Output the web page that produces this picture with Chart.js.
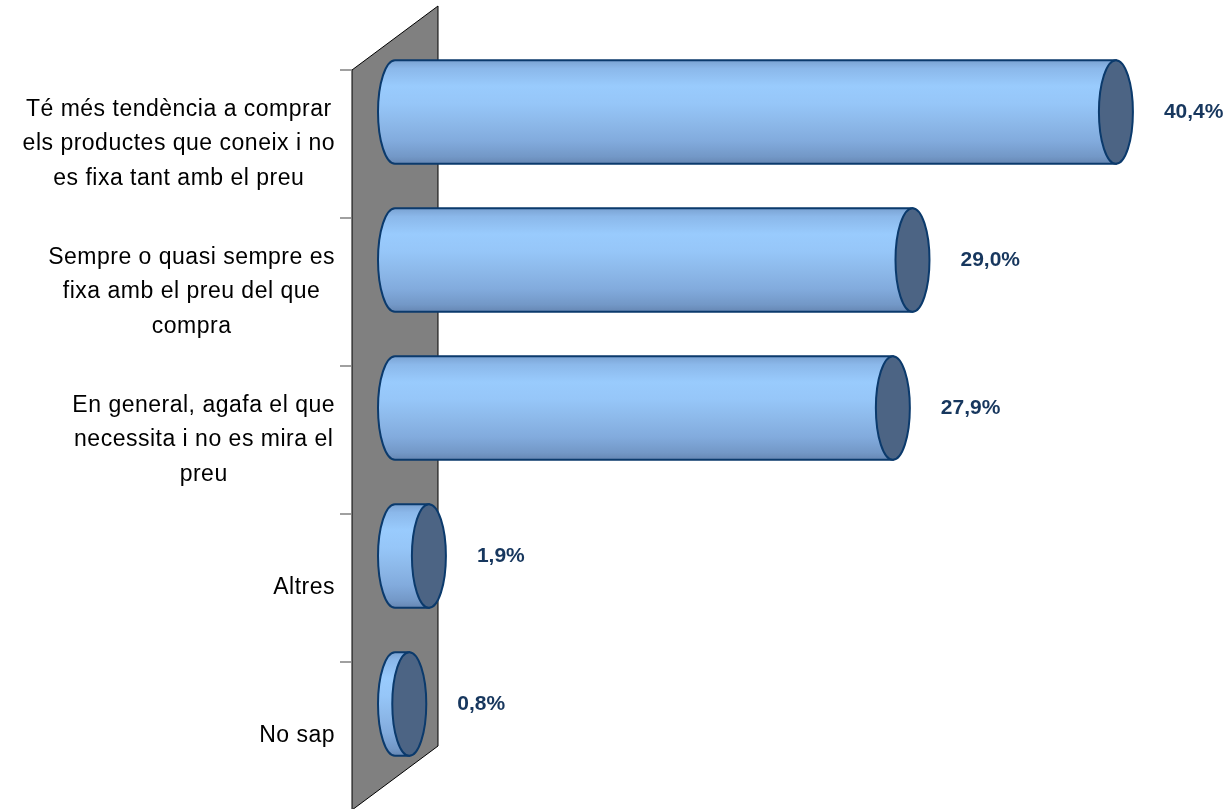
<!DOCTYPE html>
<html>
<head>
<meta charset="utf-8">
<script src="https://cdn.jsdelivr.net/npm/chart.js@4/dist/chart.umd.min.js"></script>
<style>
  html, body { margin: 0; padding: 0; background: #ffffff; }
  #wrap { width: 1232px; height: 809px; position: relative; }
</style>
</head>
<body>
<div id="wrap"><canvas id="grafic"></canvas></div>
<script>
// dades del grafic
const categories = [
    ["Té més tendència a comprar", "els productes que coneix i no", "es fixa tant amb el preu"],
    ["Sempre o quasi sempre es", "fixa amb el preu del que", "compra"],
    ["En general, agafa el que", "necessita i no es mira el", "preu"],
    ["Altres"],
    ["No sap"]
];
const valors = [40.4, 29.0, 27.9, 1.9, 0.8];
const etiquetesValor = ["40,4%", "29,0%", "27,9%", "1,9%", "0,8%"];

// desplaçament de profunditat (efecte 3D)
const profX = 43;
const profY = 32;

// paret grisa + marques de categoria
const pluginParet = {
    id: 'paret',
    beforeDatasetsDraw(chart) {
        const ctx = chart.ctx;
        const area = chart.chartArea;
        const fx = area.left - profX, bx = area.left + profX;
        ctx.save();
        ctx.beginPath();
        ctx.moveTo(fx, area.top + profY);
        ctx.lineTo(bx, area.top - profY);
        ctx.lineTo(bx, area.bottom - profY);
        ctx.lineTo(fx, area.bottom + profY);
        ctx.closePath();
        ctx.fillStyle = '#808080';
        ctx.fill();
        ctx.strokeStyle = '#000000';
        ctx.lineWidth = 1;
        ctx.stroke();

        // marques
        const yScale = chart.scales.y;
        ctx.strokeStyle = '#808080';
        ctx.lineWidth = 1.5;
        for (let i = 0; i <= categories.length; i++) {
            const y = yScale.getPixelForValue(i - 0.5) + profY;
            ctx.beginPath();
            ctx.moveTo(fx - 12, y);
            ctx.lineTo(fx, y);
            ctx.stroke();
        }
        ctx.restore();
    }
};

// cilindres, etiquetes de categoria i valors
const pluginCilindres = {
    id: 'cilindres',
    afterDatasetsDraw(chart) {
        const ctx = chart.ctx;
        const area = chart.chartArea;
        const meta = chart.getDatasetMeta(0);
        const rx = 17;
        ctx.save();
        meta.data.forEach(function (bar, i) {
            const x0 = bar.base;
            const x1 = bar.x;
            const yc = bar.y;
            const ry = bar.height / 2;

            const grad = ctx.createLinearGradient(0, yc - ry, 0, yc + ry);
            grad.addColorStop(0, '#7aa2d2');
            grad.addColorStop(0.08, '#8bb8ea');
            grad.addColorStop(0.25, '#99cbfd');
            grad.addColorStop(0.42, '#96c6f8');
            grad.addColorStop(0.6, '#8db9ea');
            grad.addColorStop(0.78, '#82abdd');
            grad.addColorStop(0.93, '#7398c7');
            grad.addColorStop(1, '#6687b3');

            // cos del cilindre
            ctx.beginPath();
            ctx.ellipse(x0, yc, rx, ry, 0, -Math.PI / 2, Math.PI / 2, true);
            ctx.lineTo(x1, yc + ry);
            ctx.lineTo(x1, yc - ry);
            ctx.closePath();
            ctx.fillStyle = grad;
            ctx.fill();
            ctx.strokeStyle = '#0b3a6c';
            ctx.lineWidth = 2;
            ctx.stroke();

            // tapa dreta
            ctx.beginPath();
            ctx.ellipse(x1, yc, rx, ry, 0, 0, Math.PI * 2);
            ctx.fillStyle = '#4c6484';
            ctx.fill();
            ctx.stroke();

            // valor
            ctx.fillStyle = '#17375e';
            ctx.font = 'bold 21px "Liberation Sans", Arial, sans-serif';
            ctx.textAlign = 'left';
            ctx.textBaseline = 'middle';
            ctx.fillText(etiquetesValor[i], x1 + rx + 31, yc);

            // etiqueta de categoria (centrada en bloc, alineada a la dreta)
            const linies = categories[i];
            ctx.fillStyle = '#000000';
            ctx.font = '23px "Liberation Sans", Arial, sans-serif';
            ctx.letterSpacing = '0.5px';
            let ample = 0;
            linies.forEach(function (l) { ample = Math.max(ample, ctx.measureText(l).width); });
            const dreta = area.left - profX - 17;
            const centre = dreta - ample / 2;
            const altLinia = 34.5;
            const yMig = yc + profY;
            ctx.textAlign = 'center';
            linies.forEach(function (l, j) {
                const y = yMig + (j - (linies.length - 1) / 2) * altLinia;
                ctx.fillText(l, centre, y);
            });
            ctx.letterSpacing = '0px';
        });
        ctx.restore();
    }
};

var ctx1 = document.getElementById('grafic').getContext('2d');
var grafic = new Chart(ctx1, {
    type: 'bar',
    data: {
        labels: categories,
        datasets: [{
            data: valors,
            backgroundColor: 'rgba(0,0,0,0)',
            borderWidth: 0,
            barPercentage: 0.7,
            categoryPercentage: 1.0
        }]
    },
    options: {
        indexAxis: 'y',
        responsive: true,
        maintainAspectRatio: false,
        animation: false,
        layout: { padding: { left: 395, top: 38, bottom: 31, right: 34 } },
        plugins: {
            legend: { display: false },
            tooltip: { enabled: false }
        },
        scales: {
            x: { display: false, min: 0, max: 45 },
            y: { display: false }
        }
    },
    plugins: [pluginParet, pluginCilindres]
});
</script>
</body>
</html>
